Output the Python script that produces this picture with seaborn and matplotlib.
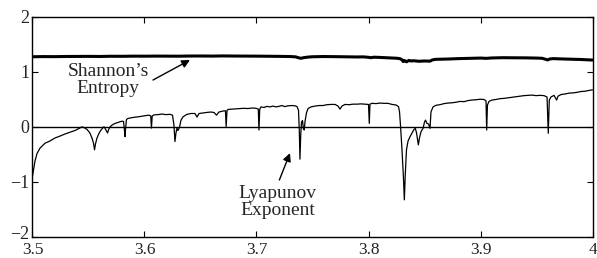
import matplotlib
matplotlib.use("Agg")
import matplotlib.pyplot as plt
import matplotlib.transforms as mtransforms
import seaborn as sns
import pandas as pd

# Lyapunov exponent
lyap_r = [3.5000, 3.5022, 3.5040, 3.5067, 3.5112, 3.5156, 3.5201, 3.5246, 3.5290, 3.5335,
          3.5379, 3.5415, 3.5442, 3.5460, 3.5487, 3.5513, 3.5531, 3.5545, 3.5554, 3.5563,
          3.5576, 3.5594, 3.5612, 3.5629, 3.5638, 3.5647, 3.5661, 3.5670, 3.5679, 3.5688,
          3.5696, 3.5710, 3.5728, 3.5746, 3.5763, 3.5781, 3.5799, 3.5813, 3.5821, 3.5826,
          3.5830, 3.5839, 3.5853, 3.5888, 3.5924, 3.5960, 3.6004, 3.6040, 3.6056, 3.6062,
          3.6069, 3.6085, 3.6121, 3.6156, 3.6192, 3.6228, 3.6250, 3.6263, 3.6272, 3.6281,
          3.6290, 3.6299, 3.6313, 3.6326, 3.6344, 3.6379, 3.6415, 3.6451, 3.6469, 3.6487,
          3.6522, 3.6558, 3.6594, 3.6621, 3.6643, 3.6665, 3.6701, 3.6723, 3.6729, 3.6737,
          3.6750, 3.6781, 3.6817, 3.6853, 3.6888, 3.6924, 3.6960, 3.6996, 3.7016, 3.7022,
          3.7029, 3.7040, 3.7067, 3.7094, 3.7121, 3.7147, 3.7174, 3.7201, 3.7228, 3.7254,
          3.7281, 3.7317, 3.7344, 3.7362, 3.7375, 3.7382, 3.7388, 3.7395, 3.7402, 3.7411,
          3.7418, 3.7426, 3.7433, 3.7446, 3.7460, 3.7487, 3.7522, 3.7558, 3.7594, 3.7629,
          3.7665, 3.7701, 3.7728, 3.7746, 3.7763, 3.7790, 3.7826, 3.7862, 3.7897, 3.7933,
          3.7969, 3.8000, 3.8007, 3.8013, 3.8031, 3.8067, 3.8103, 3.8138, 3.8174, 3.8210,
          3.8246, 3.8268, 3.8277, 3.8286, 3.8299, 3.8313, 3.8320, 3.8328, 3.8339, 3.8353,
          3.8371, 3.8388, 3.8406, 3.8418, 3.8429, 3.8445, 3.8455, 3.8469, 3.8487, 3.8500,
          3.8509, 3.8522, 3.8536, 3.8549, 3.8558, 3.8576, 3.8603, 3.8638, 3.8674, 3.8710,
          3.8746, 3.8781, 3.8817, 3.8853, 3.8888, 3.8924, 3.8960, 3.8996, 3.9031, 3.9049,
          3.9055, 3.9062, 3.9076, 3.9103, 3.9138, 3.9174, 3.9210, 3.9246, 3.9281, 3.9317,
          3.9353, 3.9388, 3.9424, 3.9460, 3.9496, 3.9531, 3.9567, 3.9594, 3.9605, 3.9614,
          3.9629, 3.9656, 3.9680, 3.9692, 3.9719, 3.9754, 3.9790, 3.9826, 3.9862, 3.9897,
          3.9933, 3.9969, 4.0000]
lyap_val = [-0.90, -0.63, -0.49, -0.39, -0.30, -0.26, -0.205, -0.17, -0.133, -0.10,
            -0.07, -0.033, -0.003, -0.015, -0.05, -0.115, -0.205, -0.30, -0.42, -0.31,
            -0.205, -0.12, -0.06, -0.02, -0.002, -0.025, -0.08, -0.115, -0.06, -0.015,
            0.003, 0.03, 0.05, 0.067, 0.076, 0.09, 0.10, 0.095, -0.06, -0.18,
            -0.06, 0.13, 0.15, 0.165, 0.175, 0.185, 0.20, 0.21, 0.195, -0.025,
            0.195, 0.215, 0.22, 0.23, 0.22, 0.225, 0.21, 0.03, -0.27, -0.115,
            -0.025, -0.07, -0.005, 0.12, 0.18, 0.225, 0.24, 0.24, 0.175, 0.24,
            0.25, 0.26, 0.267, 0.258, 0.21, 0.267, 0.285, 0.29, 0.004, 0.30,
            0.315, 0.32, 0.325, 0.33, 0.335, 0.33, 0.34, 0.335, 0.32, -0.06,
            0.32, 0.36, 0.35, 0.37, 0.36, 0.375, 0.36, 0.37, 0.385, 0.365,
            0.38, 0.385, 0.38, 0.365, 0.30, -0.06, -0.59, -0.15, 0.085, 0.11,
            -0.03, -0.06, 0.09, 0.25, 0.33, 0.36, 0.375, 0.385, 0.385, 0.40,
            0.405, 0.405, 0.375, 0.32, 0.375, 0.405, 0.40, 0.41, 0.41, 0.415,
            0.41, 0.405, 0.06, 0.41, 0.425, 0.42, 0.43, 0.425, 0.425, 0.405,
            0.395, 0.365, 0.27, 0.01, -0.42, -0.97, -1.33, -0.88, -0.42, -0.26,
            -0.18, -0.115, -0.05, -0.03, -0.115, -0.33, -0.205, -0.09, -0.03, 0.085,
            0.12, 0.06, 0.05, -0.03, 0.27, 0.36, 0.39, 0.40, 0.42, 0.43,
            0.435, 0.445, 0.46, 0.455, 0.475, 0.485, 0.49, 0.50, 0.495, 0.47,
            -0.06, 0.395, 0.46, 0.485, 0.495, 0.51, 0.515, 0.525, 0.535, 0.545,
            0.555, 0.565, 0.57, 0.575, 0.565, 0.57, 0.565, 0.54, -0.12, 0.485,
            0.54, 0.57, 0.485, 0.555, 0.585, 0.595, 0.61, 0.615, 0.625, 0.64,
            0.645, 0.66, 0.67]

# Shannon's entropy
ent_r = [3.500, 3.510, 3.520, 3.530, 3.540, 3.550, 3.560, 3.570, 3.580, 3.590,
         3.600, 3.610, 3.620, 3.630, 3.640, 3.650, 3.660, 3.670, 3.680, 3.690,
         3.700, 3.710, 3.720, 3.730, 3.735, 3.738, 3.740, 3.742, 3.746, 3.750,
         3.760, 3.770, 3.780, 3.790, 3.795, 3.800, 3.802, 3.805, 3.810, 3.815,
         3.820, 3.825, 3.828, 3.830, 3.831, 3.832, 3.834, 3.836, 3.838, 3.840,
         3.845, 3.850, 3.855, 3.857, 3.860, 3.870, 3.880, 3.890, 3.900, 3.905,
         3.910, 3.920, 3.930, 3.940, 3.950, 3.955, 3.960, 3.962, 3.965, 3.970,
         3.980, 3.990, 4.000]
ent_val = [1.272, 1.275, 1.274, 1.277, 1.278, 1.279, 1.277, 1.281, 1.280, 1.283,
           1.282, 1.284, 1.283, 1.282, 1.285, 1.286, 1.284, 1.287, 1.285, 1.284,
           1.283, 1.281, 1.279, 1.276, 1.270, 1.250, 1.245, 1.255, 1.266, 1.272,
           1.276, 1.274, 1.271, 1.268, 1.270, 1.262, 1.255, 1.264, 1.260, 1.255,
           1.250, 1.245, 1.238, 1.215, 1.185, 1.205, 1.180, 1.205, 1.195, 1.200,
           1.190, 1.195, 1.192, 1.215, 1.225, 1.230, 1.238, 1.243, 1.248, 1.243,
           1.250, 1.255, 1.253, 1.252, 1.248, 1.244, 1.215, 1.232, 1.238, 1.234,
           1.228, 1.222, 1.212]

x_ticks = [3.5, 3.6, 3.7, 3.8, 3.9, 4.0]
x_labels = ["3.5", "3.6", "3.7", "3.8", "3.9", "4"]
y_ticks = [-2, -1, 0, 1, 2]
y_labels = ["\u22122", "\u22121", "0", "1", "2"]

sns.set_style("ticks")
plt.rcParams["font.family"] = ["Liberation Serif", "DejaVu Serif"]
plt.rcParams["xtick.direction"] = "in"
plt.rcParams["ytick.direction"] = "in"

fig = plt.figure(figsize=(5.97, 2.58), dpi=100)
ax = fig.add_axes([0.0544, 0.0826, 0.9381, 0.8526])

lyap_df = pd.DataFrame({"r": lyap_r, "v": lyap_val})
ent_df = pd.DataFrame({"r": ent_r, "v": ent_val})

ax.axhline(0, color="black", lw=1.0, zorder=1)
sns.lineplot(data=lyap_df, x="r", y="v", ax=ax, color="black", lw=0.9,
             estimator=None, sort=False, zorder=3)
sns.lineplot(data=ent_df, x="r", y="v", ax=ax, color="black", lw=2.2,
             estimator=None, sort=False, zorder=3)

ax.set_xlim(3.5, 4.0)
ax.set_ylim(-2, 2)
ax.set_xticks(x_ticks)
ax.set_xticklabels(x_labels)
ax.set_yticks(y_ticks)
ax.set_yticklabels(y_labels)
ax.set_xlabel("")
ax.set_ylabel("")
ax.tick_params(axis="both", which="both", direction="in", top=True, right=True,
               length=4, width=0.8, color="black")
ax.tick_params(axis="x", pad=4, labelsize=12.5)
ax.tick_params(axis="y", pad=2, labelsize=13)
for s in ax.spines.values():
    s.set_color("black")
    s.set_linewidth(1.0)

# nudge the lowest y label up a little so it does not collide with "3.5"
lowest = ax.get_yticklabels()[0]
lowest.set_transform(lowest.get_transform() +
                     mtransforms.ScaledTranslation(0, 3 / 72, fig.dpi_scale_trans))

arrow = dict(arrowstyle="-|>", color="black", lw=1.0, shrinkA=0, shrinkB=0,
             mutation_scale=12)

ax.text(3.5674, 0.85, "Shannon\u2019s\nEntropy", ha="center", va="center",
        fontsize=14, linespacing=1.0)
ax.annotate("", xy=(3.6406, 1.213), xytext=(3.6076, 0.849), arrowprops=arrow)

ax.text(3.7188, -1.37, "Lyapunov\nExponent", ha="center", va="center",
        fontsize=14, linespacing=1.0)
ax.annotate("", xy=(3.7299, -0.48), xytext=(3.7204, -0.97), arrowprops=arrow)

fig.savefig("out.png", dpi=100)
